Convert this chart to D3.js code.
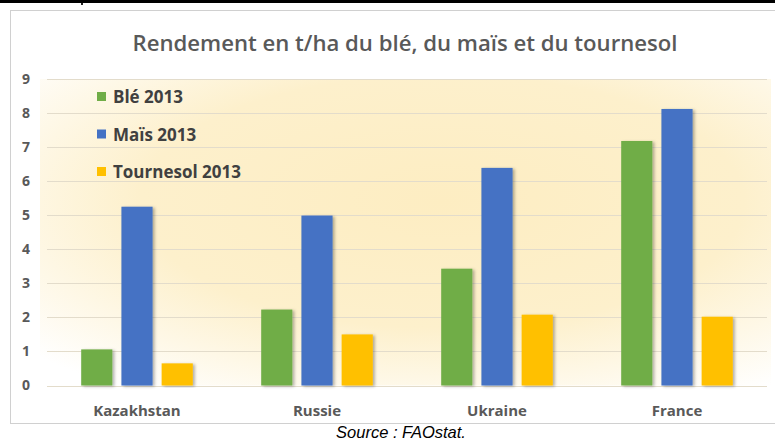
<!DOCTYPE html>
<html>
<head>
<meta charset="utf-8">
<script src="https://cdn.jsdelivr.net/npm/d3@7"></script>
<style>
  body { margin: 0; background: #fff; }
  svg { display: block; }
</style>
</head>
<body>
<div id="root"></div>
<script>
const countries = ["Kazakhstan", "Russie", "Ukraine", "France"];
const series = ["Blé 2013", "Maïs 2013", "Tournesol 2013"];
const ble = [1.06, 2.23, 3.43, 7.18];
const mais = [5.25, 4.99, 6.39, 8.12];
const tournesol = [0.65, 1.5, 2.08, 2.02];
const yTicks = [0, 1, 2, 3, 4, 5, 6, 7, 8, 9];

const colors = ["#70ad47", "#4472c4", "#ffc000"];
const values = [ble, mais, tournesol];

const width = 775, height = 442;
const margin = { left: 47, right: 8, top: 79, bottom: 56 };

const svg = d3.select("#root")
    .append("svg")
    .attr("width", width)
    .attr("height", height);

const defs = svg.append("defs");
const grad = defs.append("radialGradient")
    .attr("id", "bg")
    .attr("cx", "55%").attr("cy", "40%").attr("r", "75%");
grad.append("stop").attr("offset", "0%").attr("stop-color", "#fdedc2");
grad.append("stop").attr("offset", "55%").attr("stop-color", "#fdf0cc");
grad.append("stop").attr("offset", "100%").attr("stop-color", "#ffffff");

const shadow = defs.append("filter").attr("id", "shadow")
    .attr("x", "-20%").attr("y", "-10%").attr("width", "160%").attr("height", "120%");
shadow.append("feDropShadow")
    .attr("dx", 2).attr("dy", 1).attr("stdDeviation", 1.5)
    .attr("flood-color", "#000").attr("flood-opacity", 0.3);

// top black rule
svg.append("rect").attr("x", 0).attr("y", 0).attr("width", width).attr("height", 3).attr("fill", "#000");
svg.append("rect").attr("x", 81).attr("y", 3).attr("width", 2).attr("height", 2).attr("fill", "#222");

// chart frame
svg.append("rect")
    .attr("x", 10.5).attr("y", 10.5)
    .attr("width", 775).attr("height", 413)
    .attr("fill", "#fff")
    .attr("stroke", "#d0d0d0");

const x0 = d3.scaleBand()
    .domain(countries)
    .range([margin.left, width - margin.right])
    .paddingInner(0.38)
    .paddingOuter(0.19);

const x1 = d3.scaleBand()
    .domain(series)
    .range([0, x0.bandwidth()])
    .paddingInner(0.225);

const y = d3.scaleLinear()
    .domain([0, 9])
    .range([height - margin.bottom - 0.5, margin.top]);

// plot background
svg.append("rect")
    .attr("x", 40).attr("y", y(9))
    .attr("width", width - margin.right - 40 + 4)
    .attr("height", y(0) - y(9))
    .attr("fill", "url(#bg)");

// gridlines
svg.append("g")
    .selectAll("line")
    .data(yTicks)
    .join("line")
    .attr("x1", margin.left)
    .attr("x2", width - margin.right)
    .attr("y1", d => Math.round(y(d)) + 0.5)
    .attr("y2", d => Math.round(y(d)) + 0.5)
    .attr("stroke", "#e3dccb")
    .attr("stroke-width", 1);

// y axis labels
const yAxis = d3.axisLeft(y).tickValues(yTicks).tickSize(0).tickPadding(0);
svg.append("g")
    .attr("transform", "translate(26,0)")
    .call(yAxis)
    .call(g => g.select(".domain").remove())
    .call(g => g.selectAll("text")
        .attr("text-anchor", "middle")
        .attr("font-family", "'Open Sans', sans-serif")
        .attr("font-weight", "bold")
        .attr("font-size", 14)
        .attr("fill", "#595959"));

// bars
const groups = svg.append("g")
    .selectAll("g")
    .data(countries)
    .join("g")
    .attr("transform", d => `translate(${x0(d)},0)`);

groups.selectAll("rect")
    .data((c, i) => series.map((s, j) => ({ s, v: values[j][i], j })))
    .join("rect")
    .attr("x", d => x1(d.s))
    .attr("y", d => y(d.v))
    .attr("width", x1.bandwidth())
    .attr("height", d => y(0) - y(d.v))
    .attr("fill", d => colors[d.j])
    .attr("filter", "url(#shadow)");

// x axis labels
const xAxis = d3.axisBottom(x0).tickSize(0).tickPadding(0);
svg.append("g")
    .attr("transform", `translate(0,${y(0) + 30})`)
    .call(xAxis)
    .call(g => g.select(".domain").remove())
    .call(g => g.selectAll("text")
        .attr("dy", 0)
        .attr("font-family", "'Open Sans', sans-serif")
        .attr("font-weight", "bold")
        .attr("font-size", 15)
        .attr("fill", "#595959"));

// title
svg.append("text")
    .attr("x", 405)
    .attr("y", 51)
    .attr("text-anchor", "middle")
    .attr("font-family", "'Open Sans', sans-serif")
    .attr("font-weight", 600)
    .attr("font-size", 22)
    .attr("textLength", 545)
    .attr("lengthAdjust", "spacingAndGlyphs")
    .attr("fill", "#595959")
    .text("Rendement en t/ha du blé, du maïs et du tournesol");

// legend
const legend = svg.append("g")
    .selectAll("g")
    .data(series)
    .join("g")
    .attr("transform", (d, i) => `translate(97,${97 + i * 37.5})`);

legend.append("rect")
    .attr("x", 0).attr("y", -5)
    .attr("width", 9).attr("height", 9)
    .attr("fill", (d, i) => colors[i]);

legend.append("text")
    .attr("x", 16)
    .attr("y", 6)
    .attr("font-family", "'Open Sans', sans-serif")
    .attr("font-weight", "bold")
    .attr("font-size", 17)
    .attr("fill", "#404040")
    .text(d => d);

// source
svg.append("text")
    .attr("x", 401)
    .attr("y", 438)
    .attr("text-anchor", "middle")
    .attr("font-family", "'Liberation Sans', Arial, sans-serif")
    .attr("font-style", "italic")
    .attr("font-size", 16.5)
    .attr("fill", "#000")
    .text("Source : FAOstat.");
</script>
</body>
</html>
